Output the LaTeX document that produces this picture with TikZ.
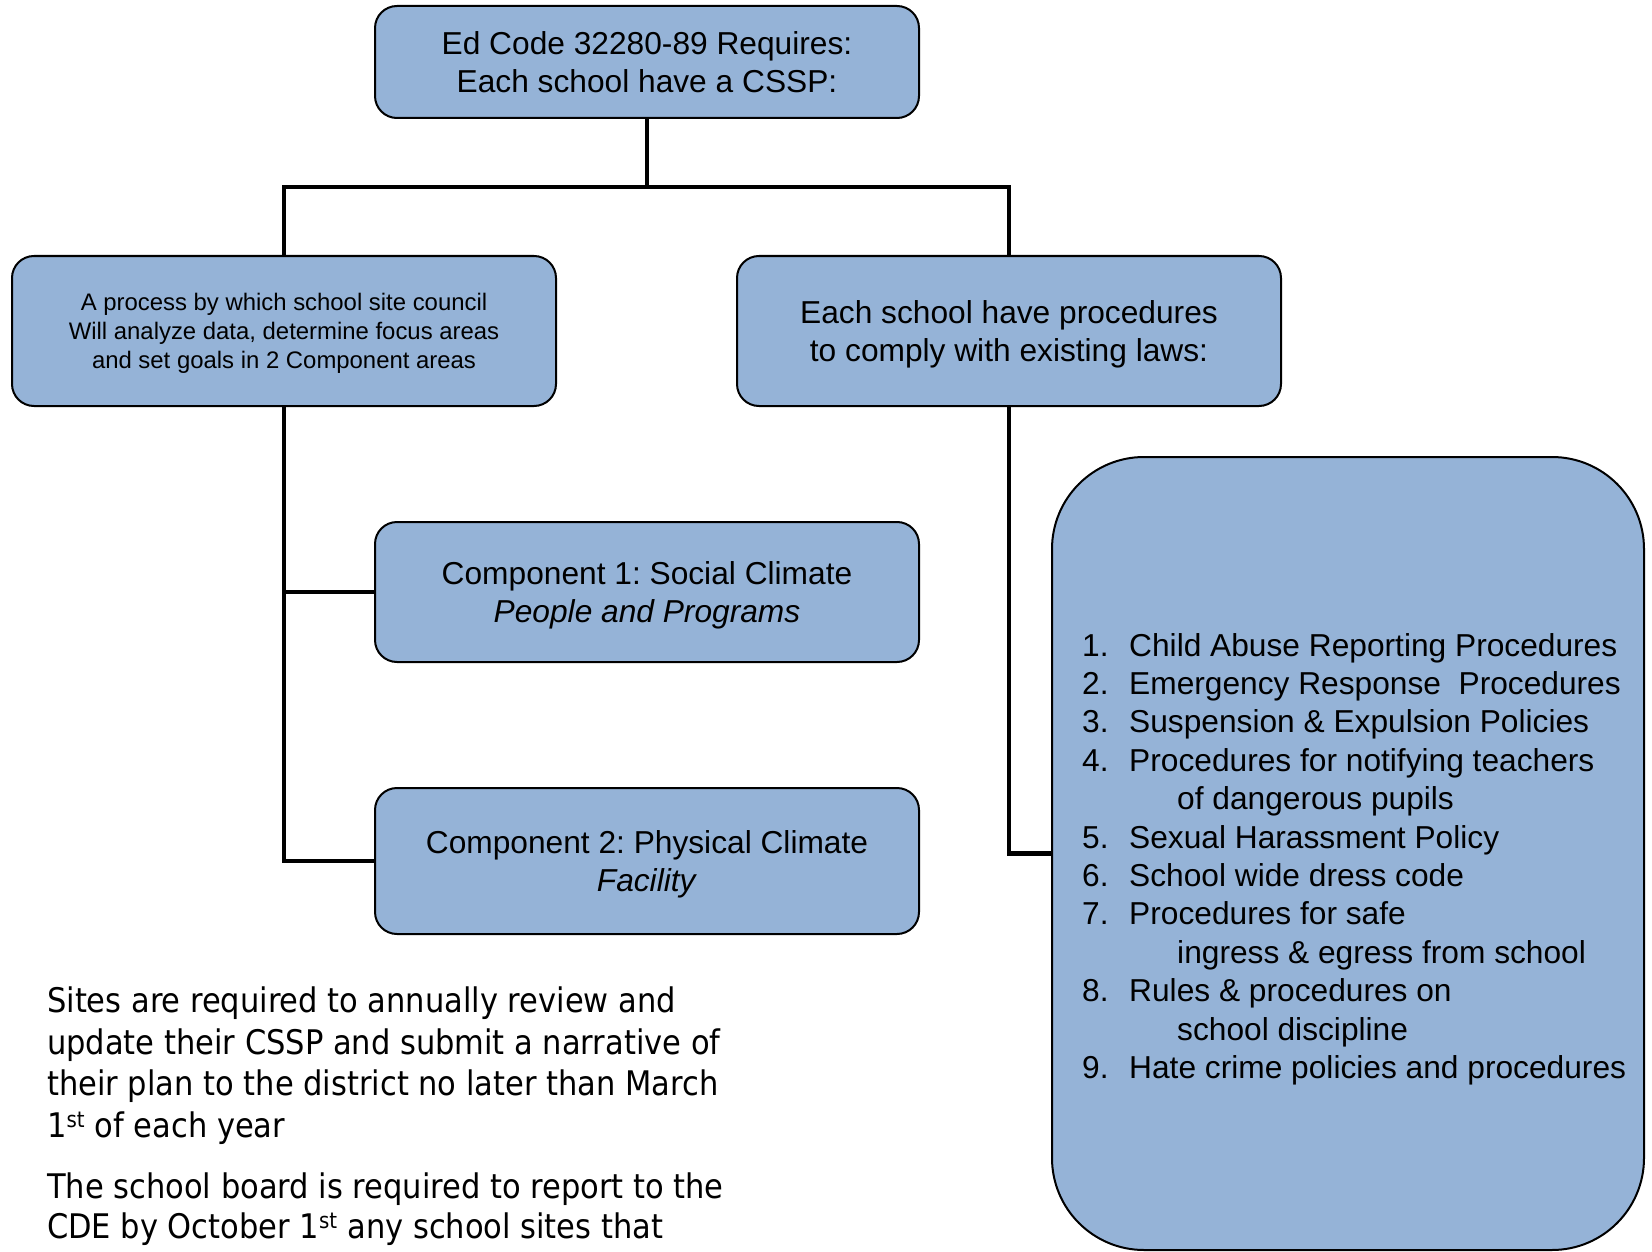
\documentclass[tikz,border=0pt]{standalone}
\usepackage{fontspec}
\setmainfont{Liberation Sans}
\newfontfamily\tahoma{DejaVu Sans Condensed}
\definecolor{boxblue}{HTML}{95B3D7}
\frenchspacing
\begin{document}
\begin{tikzpicture}[x=1pt,y=-1pt,
  box/.style={draw=black, line width=2pt, fill=boxblue, rounded corners=22pt,
    minimum width=544pt, inner sep=0pt, align=center, text depth=0pt,
    font=\fontsize{31.7}{38.3}\selectfont},
  conn/.style={line width=4.2pt},
  item/.style={anchor=base west, inner sep=0pt, font=\fontsize{31.7}{38.3}\selectfont},
  para/.style={anchor=base west, inner sep=0pt, font=\tahoma\fontsize{33.9}{41.7}\selectfont}]
\useasboundingbox (0,0) rectangle (1652,1252);

\node[box, minimum height=112pt] (top) at (647,62) {Ed Code 32280-89 Requires:\\Each school have a CSSP:};
\node[box, minimum height=150pt, font=\fontsize{23.9}{29}\selectfont] (proc) at (284,331)
  {A process by which school site council\\Will analyze data, determine focus areas\\and set goals in 2 Component areas};
\node[box, minimum height=150pt] (laws) at (1009,331) {Each school have procedures\\to comply with existing laws:};
\node[box, minimum height=140pt] (c1) at (647,592) {Component 1: Social Climate\\\textit{People and Programs}};
\node[box, minimum height=146pt] (c2) at (647,861) {Component 2: Physical Climate\\\textit{Facility}};
\node[draw=black, line width=2pt, fill=boxblue, rounded corners=92pt,
  minimum width=592pt, minimum height=793pt, inner sep=0pt] (list) at (1348,853.5) {};

\coordinate (j) at (647,187);
\draw[conn] (top.south) -- (j);
\draw[conn] (proc.north) |- (j) -| (laws.north);
\draw[conn] (proc.south) |- (c2.west);
\draw[conn] (proc.south |- c1.west) -- (c1.west);
\draw[conn] (laws.south) |- (list.west);

\node[item] (n1) at (1082,656) {1.};
\node[item] (t1) at (1129,656) {Child Abuse Reporting Procedures};
\node[item] (n2) at (1082,694.4) {2.};
\node[item] (t2) at (1129,694.4) {Emergency Response~ Procedures};
\node[item] (n3) at (1082,732.8) {3.};
\node[item] (t3) at (1129,732.8) {Suspension \& Expulsion Policies};
\node[item] (n4) at (1082,771.2) {4.};
\node[item] (t4) at (1129,771.2) {Procedures for notifying teachers};
\node[item] (t4b) at (1177,809.6) {of dangerous pupils};
\node[item] (n5) at (1082,848) {5.};
\node[item] (t5) at (1129,848) {Sexual Harassment Policy};
\node[item] (n6) at (1082,886.4) {6.};
\node[item] (t6) at (1129,886.4) {School wide dress code};
\node[item] (n7) at (1082,924.8) {7.};
\node[item] (t7) at (1129,924.8) {Procedures for safe};
\node[item] (t7b) at (1177,963.2) {ingress \& egress from school};
\node[item] (n8) at (1082,1001.6) {8.};
\node[item] (t8) at (1129,1001.6) {Rules \& procedures on};
\node[item] (t8b) at (1177,1040) {school discipline};
\node[item] (n9) at (1082,1078.4) {9.};
\node[item] (t9) at (1129,1078.4) {Hate crime policies and procedures};

\node[para] (p1) at (47,1012) {Sites are required to annually review and};
\node[para] (p2) at (47,1054) {update their CSSP and submit a narrative of};
\node[para] (p3) at (47,1095) {their plan to the district no later than March};
\node[para] (p4) at (47,1137) {1\textsuperscript{\fontsize{22}{22}\selectfont st} of each year};
\node[para] (p5) at (47,1198) {The school board is required to report to the};
\node[para] (p6) at (47,1238) {CDE by October 1\textsuperscript{\fontsize{22}{22}\selectfont st} any school sites that};
\end{tikzpicture}
\end{document}
